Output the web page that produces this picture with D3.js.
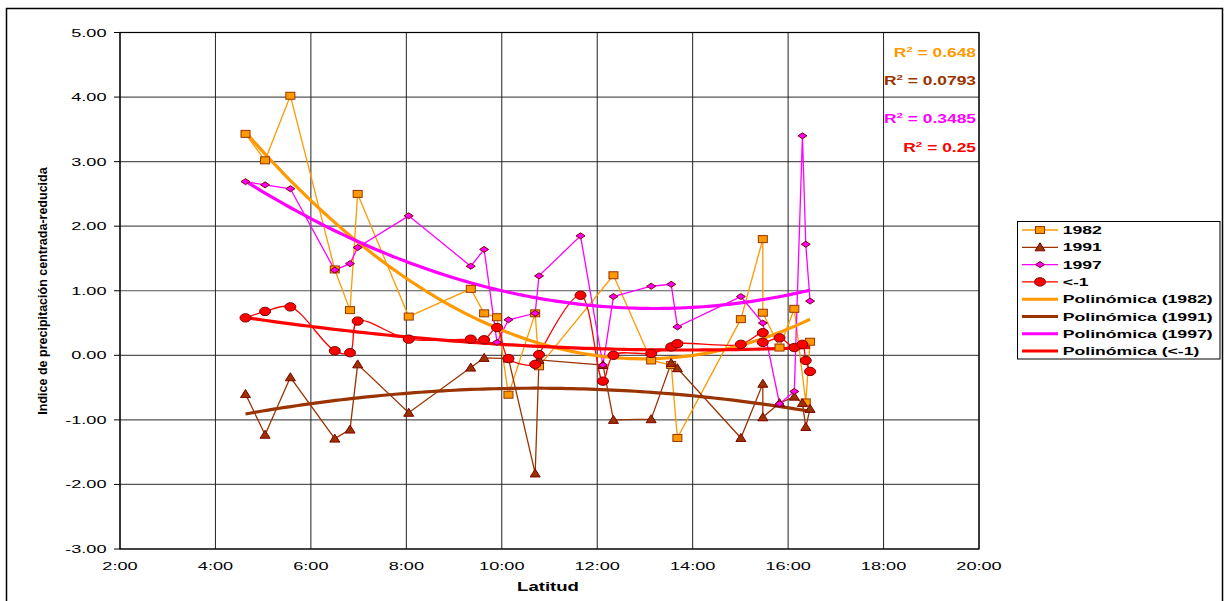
<!DOCTYPE html>
<html><head><meta charset="utf-8">
<script src="https://cdn.jsdelivr.net/npm/d3@7"></script>
<style>body{margin:0;background:#fff}svg{display:block}</style>
</head><body>
<svg id="c" width="1229" height="601"></svg>
<script>
// ---------- data ----------
const latitudes = [4.63, 5.04, 5.57, 6.50, 6.82, 6.98, 8.05, 9.35, 9.63, 9.90, 10.14, 10.70, 10.78, 11.65, 12.12, 12.34, 13.13, 13.55, 13.68, 15.01, 15.47, 15.47, 15.82, 16.13, 16.30, 16.37, 16.46];
const s1982 = [3.43, 3.02, 4.02, 1.33, 0.70, 2.50, 0.60, 1.03, 0.65, 0.59, -0.61, 0.65, -0.17, null, null, 1.24, -0.08, -0.15, -1.28, 0.56, 1.80, 0.66, 0.12, 0.72, null, -0.73, 0.21];
const s1991 = [-0.60, -1.23, -0.34, -1.29, -1.15, -0.14, -0.89, -0.19, -0.04, null, -0.05, -1.83, -0.07, null, -0.15, -1.00, -0.99, -0.12, -0.20, -1.28, -0.44, -0.96, -0.74, -0.64, -0.74, -1.11, -0.83];
const s1997 = [2.69, 2.64, 2.58, 1.32, 1.42, 1.67, 2.16, 1.38, 1.64, 0.20, 0.55, 0.65, 1.23, 1.85, -0.15, 0.91, 1.07, 1.10, 0.44, 0.91, 0.50, null, -0.75, -0.56, 3.40, 1.72, 0.84];
const sLow  = [0.58, 0.68, 0.75, 0.07, 0.04, 0.53, 0.25, 0.25, 0.24, 0.43, -0.05, -0.14, 0.01, 0.93, -0.40, 0.00, 0.03, 0.13, 0.18, 0.17, 0.35, 0.20, 0.27, 0.12, 0.17, -0.08, -0.25];

const seriesNames = ["1982", "1991", "1997", "<-1"];
const trendNames = ["Polinómica (1982)", "Polinómica (1991)", "Polinómica (1997)", "Polinómica (<-1)"];
const r2Labels = ["0.648", "0.0793", "0.3485", "0.25"];
const xTickValues = [2, 4, 6, 8, 10, 12, 14, 16, 18, 20];
const xTickLabels = ["2:00", "4:00", "6:00", "8:00", "10:00", "12:00", "14:00", "16:00", "18:00", "20:00"];
const yTickValues = [-3, -2, -1, 0, 1, 2, 3, 4, 5];
const yTickLabels = ["-3.00", "-2.00", "-1.00", "0.00", "1.00", "2.00", "3.00", "4.00", "5.00"];
const xTitle = "Latitud";
const yTitle = "Indice de precipitación centrada-reducida";

// ---------- styles ----------
const lineColors = ["#FF9900", "#993300", "#FF00FF", "#FF0000"];
const markerFill = ["#FF9900", "#993300", "#FF00FF", "#FF0000"];
const markerStroke = ["#993300", "#800000", "#800000", "#800000"];
const markerShapes = ["square", "triangle", "diamond", "circle"];
const smooth = [false, false, false, true];

const svg = d3.select("#c");
const x = d3.scaleLinear().domain([2, 20]).range([120, 979]);
const y = d3.scaleLinear().domain([-3, 5]).range([549, 32.5]);
const FONT = "'Liberation Sans', Arial, sans-serif";
const SX = 1.65;

// outer frame
svg.append("rect").attr("x", 6.5).attr("y", 8.5).attr("width", 1216).attr("height", 600)
  .attr("fill", "#fff").attr("stroke", "#000").attr("stroke-width", 1.5);

// gridlines
const g = svg.append("g");
g.selectAll(".hg").data(yTickValues).join("line")
  .attr("x1", x(2)).attr("x2", x(20)).attr("y1", d => y(d)).attr("y2", d => y(d))
  .attr("stroke", "#555").attr("stroke-width", 1.2);
g.selectAll(".vg").data(xTickValues).join("line")
  .attr("y1", y(5)).attr("y2", y(-3)).attr("x1", d => x(d)).attr("x2", d => x(d))
  .attr("stroke", "#222").attr("stroke-width", 1);
g.append("rect").attr("x", x(2)).attr("y", y(5)).attr("width", x(20) - x(2)).attr("height", y(-3) - y(5))
  .attr("fill", "none").attr("stroke", "#000").attr("stroke-width", 1.2);
// y tick marks
g.selectAll(".yt").data(yTickValues).join("line")
  .attr("x1", x(2) - 6).attr("x2", x(2)).attr("y1", d => y(d)).attr("y2", d => y(d))
  .attr("stroke", "#000");

// tick labels
svg.selectAll(".ytl").data(yTickValues).join("text")
  .attr("transform", d => `translate(106.5,${y(d) + 4}) scale(${SX},1)`)
  .attr("text-anchor", "end").attr("font-family", FONT).attr("font-size", 11).attr("fill", "#000")
  .text((d, i) => yTickLabels[i]);
svg.selectAll(".xtl").data(xTickValues).join("text")
  .attr("transform", (d, i) => `translate(${x(d)},569.5) scale(${SX},1)`)
  .attr("text-anchor", "middle").attr("font-family", FONT).attr("font-size", 11).attr("fill", "#000")
  .text((d, i) => xTickLabels[i]);

// axis titles
svg.append("text").attr("transform", `translate(548,591) scale(1.55,1)`)
  .attr("text-anchor", "middle").attr("font-family", FONT).attr("font-weight", "bold").attr("font-size", 12)
  .text(xTitle);
svg.append("text").attr("transform", `translate(46.7,291) rotate(-90)`)
  .attr("text-anchor", "middle").attr("font-family", FONT).attr("font-weight", "bold").attr("font-size", 12.5)
  .text(yTitle);

// ---------- series ----------
const allSeries = [s1982, s1991, s1997, sLow];
const pts = allSeries.map(s => latitudes.map((lx, i) => ({ x: lx, y: s[i] })).filter(p => p.y !== null));

function polyfit2(P) {
  const c0 = 10;
  const S = [0, 0, 0, 0, 0], T = [0, 0, 0];
  P.forEach(p => {
    const u = p.x - c0;
    for (let k = 0; k < 5; k++) S[k] += Math.pow(u, k);
    for (let k = 0; k < 3; k++) T[k] += p.y * Math.pow(u, k);
  });
  const A = [[S[0], S[1], S[2], T[0]], [S[1], S[2], S[3], T[1]], [S[2], S[3], S[4], T[2]]];
  for (let i = 0; i < 3; i++) {
    for (let j = i + 1; j < 3; j++) {
      const f = A[j][i] / A[i][i];
      for (let k = i; k < 4; k++) A[j][k] -= f * A[i][k];
    }
  }
  const c = [0, 0, 0];
  for (let i = 2; i >= 0; i--) {
    let s = A[i][3];
    for (let k = i + 1; k < 3; k++) s -= A[i][k] * c[k];
    c[i] = s / A[i][i];
  }
  return v => c[0] + c[1] * (v - c0) + c[2] * (v - c0) * (v - c0);
}

const dataLayer = svg.append("g");
const trendLayer = svg.append("g");
const markLayer = svg.append("g");

pts.forEach((P, si) => {
  const line = d3.line().x(d => x(d.x)).y(d => y(d.y))
    .curve(smooth[si] ? d3.curveCatmullRom.alpha(0.5) : d3.curveLinear);
  dataLayer.append("path").datum(P).attr("d", line)
    .attr("fill", "none").attr("stroke", lineColors[si]).attr("stroke-width", 1.3);
  const f = polyfit2(P);
  const xs = d3.extent(P, d => d.x);
  const tp = d3.range(0, 101).map(k => { const v = xs[0] + (xs[1] - xs[0]) * k / 100; return { x: v, y: f(v) }; });
  trendLayer.append("path").datum(tp).attr("d", d3.line().x(d => x(d.x)).y(d => y(d.y)))
    .attr("fill", "none").attr("stroke", lineColors[si]).attr("stroke-width", 3.2);
});

function drawMarker(sel, shape, cx, cy, fill, stroke) {
  if (shape === "square") sel.append("rect").attr("x", cx - 4.5).attr("y", cy - 3.5).attr("width", 9).attr("height", 7)
    .attr("fill", fill).attr("stroke", stroke).attr("stroke-width", 1);
  else if (shape === "triangle") sel.append("path").attr("d", `M${cx},${cy - 4.5}L${cx + 5},${cy + 3.5}L${cx - 5},${cy + 3.5}Z`)
    .attr("fill", fill).attr("stroke", stroke).attr("stroke-width", 1);
  else if (shape === "diamond") sel.append("path").attr("d", `M${cx},${cy - 3}L${cx + 4.5},${cy}L${cx},${cy + 3}L${cx - 4.5},${cy}Z`)
    .attr("fill", fill).attr("stroke", stroke).attr("stroke-width", 1);
  else sel.append("ellipse").attr("cx", cx).attr("cy", cy).attr("rx", 5.5).attr("ry", 4.2)
    .attr("fill", fill).attr("stroke", stroke).attr("stroke-width", 1);
}
pts.forEach((P, si) => {
  P.forEach(p => drawMarker(markLayer, markerShapes[si], x(p.x), y(p.y), markerFill[si], markerStroke[si]));
});

// R² labels
const r2Y = [56.5, 85.3, 122.5, 152];
r2Labels.forEach((lab, i) => {
  const t = svg.append("text").attr("transform", `translate(976,${r2Y[i]}) scale(1.45,1)`)
    .attr("text-anchor", "end").attr("font-family", FONT).attr("font-weight", "bold").attr("font-size", 12)
    .attr("fill", lineColors[i]);
  t.append("tspan").text("R");
  t.append("tspan").attr("font-size", 8).attr("dy", -5).text("2");
  t.append("tspan").attr("dy", 5).text(" = " + lab);
});

// legend
const lg = svg.append("g");
lg.append("rect").attr("x", 1017.5).attr("y", 221.5).attr("width", 202.5).attr("height", 137.5)
  .attr("fill", "#fff").attr("stroke", "#000").attr("stroke-width", 1);
const legendItems = seriesNames.map((n, i) => ({ name: n, i, marker: true }))
  .concat(trendNames.map((n, i) => ({ name: n, i, marker: false })));
legendItems.forEach((it, k) => {
  const cy = 230 + k * 17.3;
  lg.append("line").attr("x1", 1022).attr("x2", 1058).attr("y1", cy).attr("y2", cy)
    .attr("stroke", lineColors[it.i]).attr("stroke-width", it.marker ? 1.3 : 3);
  if (it.marker) drawMarker(lg, markerShapes[it.i], 1040, cy, markerFill[it.i], markerStroke[it.i]);
  lg.append("text").attr("transform", `translate(1062.7,${cy + 4}) scale(${SX},1)`)
    .attr("font-family", FONT).attr("font-weight", "bold").attr("font-size", 10.7).attr("fill", "#000")
    .text(it.name);
});
</script>
</body></html>
